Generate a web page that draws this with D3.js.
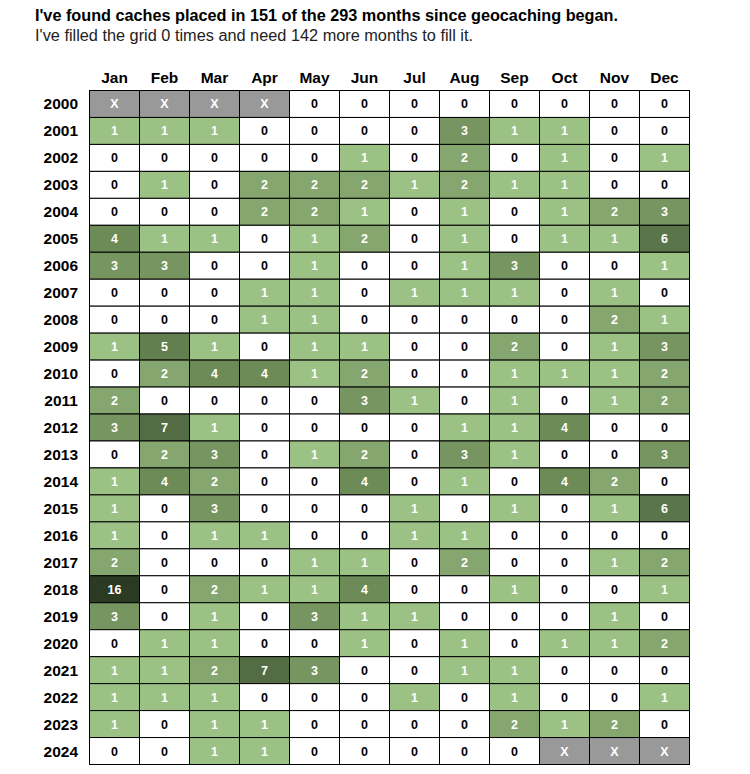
<!DOCTYPE html>
<html><head><meta charset="utf-8">
<script src="https://cdn.jsdelivr.net/npm/d3@7"></script>
<style>body{margin:0;background:#fff;} svg{display:block;}</style>
</head><body><svg id="c" width="750" height="774"></svg>
<script>
const months = ["Jan","Feb","Mar","Apr","May","Jun","Jul","Aug","Sep","Oct","Nov","Dec"];
const years = ["2000","2001","2002","2003","2004","2005","2006","2007","2008","2009","2010","2011","2012","2013","2014","2015","2016","2017","2018","2019","2020","2021","2022","2023","2024"];
const title = "I've found caches placed in 151 of the 293 months since geocaching began.";
const subtitle = "I've filled the grid 0 times and need 142 more months to fill it.";
// "X" = month outside the geocaching era
const counts = [
 ["X","X","X","X",0,0,0,0,0,0,0,0],
 [1,1,1,0,0,0,0,3,1,1,0,0],
 [0,0,0,0,0,1,0,2,0,1,0,1],
 [0,1,0,2,2,2,1,2,1,1,0,0],
 [0,0,0,2,2,1,0,1,0,1,2,3],
 [4,1,1,0,1,2,0,1,0,1,1,6],
 [3,3,0,0,1,0,0,1,3,0,0,1],
 [0,0,0,1,1,0,1,1,1,0,1,0],
 [0,0,0,1,1,0,0,0,0,0,2,1],
 [1,5,1,0,1,1,0,0,2,0,1,3],
 [0,2,4,4,1,2,0,0,1,1,1,2],
 [2,0,0,0,0,3,1,0,1,0,1,2],
 [3,7,1,0,0,0,0,1,1,4,0,0],
 [0,2,3,0,1,2,0,3,1,0,0,3],
 [1,4,2,0,0,4,0,1,0,4,2,0],
 [1,0,3,0,0,0,1,0,1,0,1,6],
 [1,0,1,1,0,0,1,1,0,0,0,0],
 [2,0,0,0,1,1,0,2,0,0,1,2],
 [16,0,2,1,1,4,0,0,1,0,0,1],
 [3,0,1,0,3,1,1,0,0,0,1,0],
 [0,1,1,0,0,1,0,1,0,1,1,2],
 [1,1,2,7,3,0,0,1,1,0,0,0],
 [1,1,1,0,0,0,1,0,1,0,0,1],
 [1,0,1,1,0,0,0,0,2,1,2,0],
 [0,0,1,1,0,0,0,0,0,"X","X","X"]
];

const svg = d3.select("#c");
const font = "'Liberation Sans', Arial, sans-serif";
const x = d3.scaleBand().domain(months).range([89.5, 689.5]).padding(0);
const y = d3.scaleBand().domain(years).range([90.5, 764.5]).padding(0);
const green = d3.scaleLinear()
  .domain([1,2,3,4,5,6,7,16])
  .range(["#9bc184","#86a66f","#779560","#6c8b57","#627f4f","#5a7549","#536c43","#2b3a22"])
  .clamp(true);
const fill = v => v === "X" ? "#999999" : (v === 0 ? "#ffffff" : green(v));

svg.append("text").attr("x",35).attr("y",21).attr("font-family",font)
  .attr("font-size",16).attr("font-weight","bold").attr("fill","#000")
  .attr("textLength",583).attr("lengthAdjust","spacingAndGlyphs").text(title);
svg.append("text").attr("x",35).attr("y",41).attr("font-family",font)
  .attr("font-size",16).attr("fill","#222")
  .attr("textLength",438).attr("lengthAdjust","spacingAndGlyphs").text(subtitle);

svg.append("g").selectAll("text").data(months).join("text")
  .attr("x", d => x(d) + x.bandwidth()/2).attr("y", 83)
  .attr("text-anchor","middle").attr("font-family",font).attr("font-size",15.5)
  .attr("font-weight","bold").text(d => d);

svg.append("g").selectAll("text").data(years).join("text")
  .attr("x", 78).attr("y", d => y(d) + y.bandwidth()/2 + 5.5)
  .attr("text-anchor","end").attr("font-family",font).attr("font-size",15.5)
  .attr("font-weight","bold").text(d => d);

const cells = [];
counts.forEach((row, i) => row.forEach((v, j) => cells.push({year: years[i], month: months[j], v})));

const g = svg.append("g");
g.selectAll("rect").data(cells).join("rect")
  .attr("x", d => x(d.month)).attr("y", d => y(d.year))
  .attr("width", x.bandwidth()).attr("height", y.bandwidth())
  .attr("fill", d => fill(d.v)).attr("stroke","#000").attr("stroke-width",1);
g.selectAll("text").data(cells).join("text")
  .attr("x", d => x(d.month) + x.bandwidth()/2)
  .attr("y", d => y(d.year) + y.bandwidth()/2 + 4.5)
  .attr("text-anchor","middle").attr("font-family",font).attr("font-size",12.5)
  .attr("font-weight","bold")
  .attr("fill", d => (d.v === 0 ? "#000" : "#fff"))
  .text(d => d.v);
</script></body></html>
